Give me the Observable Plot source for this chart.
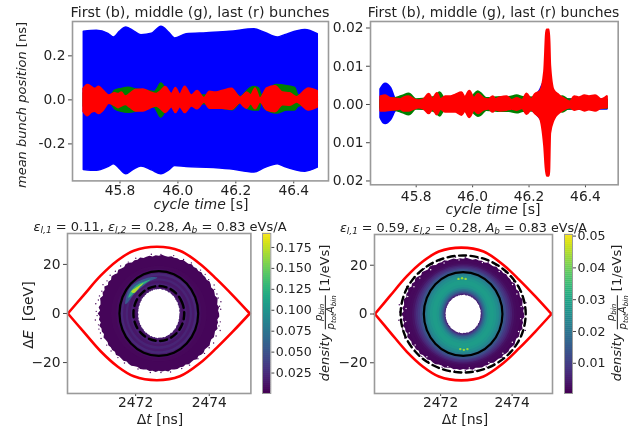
<!DOCTYPE html>
<html><head><meta charset="utf-8">
<script src="https://cdn.jsdelivr.net/npm/d3@7"></script>
<script src="https://cdn.jsdelivr.net/npm/@observablehq/plot@0.6"></script>
<style>
html,body{margin:0;padding:0;background:#fff;overflow:hidden}
#root{position:relative;width:630px;height:428px;font-family:"DejaVu Sans",sans-serif;color:#222;overflow:hidden;filter:blur(0.45px)}
#root svg{position:absolute;overflow:visible;background:transparent}
.t{position:absolute;white-space:nowrap;transform-origin:center}
.t sub{font-size:.7em;vertical-align:-.25em;line-height:0}
.frac{display:inline-block;vertical-align:middle;text-align:center;font-size:.78em;line-height:1.05}
.frac>span{display:block}
.frac>span:first-child{border-bottom:1px solid #222}
</style></head><body><div id="root"></div>
<script>
// ---------- top-left panel: envelopes of the mean bunch position [ns]
const tBlueA=[45.675,45.72,45.76,45.78,45.80,45.822,45.85,45.874,45.91,45.943,45.97,45.99,46.03,46.10,46.18,46.264,46.30,46.345,46.37,46.44,46.483];
const hiBlueA=[.31,.314,.30,.283,.31,.329,.31,.294,.30,.332,.305,.279,.298,.303,.309,.321,.305,.283,.294,.317,.298];
const loBlueA=[-.318,-.322,-.305,-.292,-.315,-.338,-.315,-.303,-.32,-.338,-.32,-.30,-.305,-.308,-.315,-.33,-.31,-.292,-.305,-.326,-.308];
const tGreenA=[45.675,45.765,45.783,45.806,45.83,45.855,45.89,45.92,45.93,45.942,45.955,45.965,46.0,46.14,46.16,46.19,46.22,46.227,46.262,46.28,46.29,46.3,46.342,46.378,46.405,46.417,46.483];
const hiGreenA=[.03,.012,.042,.05,.055,.047,.042,.035,.05,.074,.056,.03,.02,.02,.037,.037,.012,.022,.058,.052,.02,.03,.067,.062,.054,.02,.02];
const loGreenA=[-.03,-.012,-.042,-.054,-.058,-.054,-.042,-.035,-.056,-.08,-.058,-.03,-.02,-.02,-.042,-.047,-.012,-.03,-.048,-.048,-.012,-.04,-.062,-.048,-.048,-.03,-.02];
const tRedA=[45.674,45.689,45.703,45.714,45.728,45.743,45.763,45.783,45.795,45.806,45.820,45.835,45.855,45.881,45.904,45.927,45.942,45.958,45.979,45.993,46.008,46.025,46.048,46.068,46.092,46.110,46.130,46.153,46.187,46.216,46.227,46.239,46.253,46.268,46.285,46.308,46.337,46.363,46.388,46.411,46.452,46.483];
const hiRedA=[.05,.068,.058,.05,.06,.042,.02,.03,.027,.033,.015,.027,.045,.047,.035,.027,.04,.058,.027,.054,.024,.06,.02,.04,.008,.037,.033,.04,.05,.01,.02,.034,.021,.052,.006,.052,.062,.033,.03,.012,.052,.04];
const loRedA=[-.054,-.074,-.058,-.054,-.064,-.05,-.018,-.028,-.038,-.03,-.023,-.035,-.053,-.053,-.04,-.03,-.043,-.06,-.033,-.06,-.033,-.06,-.03,-.043,-.012,-.04,-.04,-.04,-.045,-.015,-.03,-.04,-.02,-.043,-.012,-.048,-.056,-.024,-.027,-.012,-.048,-.035];
// ---------- top-right panel
const tBlueB=[45.675,45.685,45.692,45.71,45.728,45.745,45.80,45.85,46.0,46.1,46.2,46.225,46.241,46.256,46.27,46.285,46.30,46.33,46.4,46.477];
const hiBlueB=[.0039,.005,.0053,.0042,.0013,.0012,.001,.001,.0012,.001,.0012,.0022,.0037,.0058,.005,.0035,.0015,.0012,.0012,.0012];
const loBlueB=[-.0035,-.0048,-.005,-.004,-.0016,-.0012,-.001,-.001,-.0012,-.001,-.0012,-.0024,-.0037,-.0053,-.005,-.0035,-.0015,-.0012,-.0012,-.0012];
const tGreenB=[45.675,45.74,45.755,45.775,45.80,45.85,45.87,45.885,45.90,46.0,46.02,46.03,46.05,46.1,46.13,46.158,46.18,46.3,46.32,46.34,46.477];
const hiGreenB=[.001,.0018,.0022,.0027,.0012,.0015,.002,.003,.0015,.002,.0033,.0028,.0015,.0018,.0018,.0022,.0018,.0015,.002,.0012,.001];
const loGreenB=[-.001,-.0018,-.0022,-.0027,-.0012,-.0015,-.002,-.003,-.0015,-.002,-.0031,-.0028,-.0015,-.0018,-.0018,-.0022,-.0018,-.0015,-.002,-.0012,-.001];
const tRedB=[45.675,45.692,45.710,45.728,45.745,45.757,45.775,45.793,45.810,45.828,45.846,45.860,45.875,45.887,45.905,45.923,45.940,45.962,45.974,45.990,46.006,46.021,46.041,46.059,46.073,46.081,46.099,46.122,46.140,46.158,46.178,46.193,46.209,46.223,46.241,46.256,46.264,46.272,46.276,46.288,46.306,46.323,46.347,46.362,46.379,46.398,46.414,46.436,46.457,46.477];
const hiRedB=[.002,.0022,.0015,.0014,.0012,.0017,.002,.0012,.0009,.0012,.0026,.0012,.0028,.0012,.002,.002,.0024,.003,.0017,.0034,.0015,.0026,.0014,.0012,.002,.0012,.0017,.002,.001,.0015,.001,.0027,.0012,.0026,.0033,.0085,.0194,.0194,.0102,.0037,.0024,.0015,.0006,.002,.0017,.0022,.002,.0022,.0012,.002];
const loRedB=[-.0017,-.0017,-.0015,-.0014,-.0012,-.0017,-.0017,-.0012,-.0009,-.0012,-.0024,-.0012,-.0027,-.0012,-.002,-.002,-.002,-.0028,-.0017,-.0034,-.0015,-.0024,-.0014,-.0012,-.002,-.0014,-.0017,-.0015,-.0012,-.0015,-.001,-.0026,-.0014,-.0024,-.0037,-.0109,-.0187,-.0187,-.0076,-.0042,-.0024,-.0015,-.0009,-.0015,-.0012,-.0017,-.0014,-.0017,-.001,-.0009];
// ---------- phase space: separatrix
const sepT=[2470.16,2470.59,2471.05,2471.5,2471.95,2472.58,2473.2,2473.75,2474.2,2474.65,2475.1];
const sepE=[0,7.5,15.4,21.5,25.6,27.2,25.6,20.2,14,7.2,0];
const centerT=2472.63;
// closed contour sampling (16 points round a ring)
const ringU=[1,.924,.707,.383,0,-.383,-.707,-.924,-1,-.924,-.707,-.383,0,.383,.707,.924];
const ringV=[0,.383,.707,.924,1,.924,.707,.383,0,-.383,-.707,-.924,-1,-.924,-.707,-.383];
// density contours: half-width [ns], half-height [GeV], density level
const ringsC=[[1.30,19.5,.004],[1.16,18.3,.006],[1.1,17.4,.012],[1.03,16.4,.022],[.97,15.4,.014],[.9,14.4,.020],[.84,13.4,.012],[.76,12.3,.018],[.7,11.3,.009],[.62,10.6,.014]];
const ringsD=[[1.6,22,.0015],[1.5,21.2,.002],[1.43,20.6,.003],[1.37,20,.005],[1.32,19.5,.007],[1.27,19,.009],[1.21,18.5,.012],[1.15,17.8,.016],[1.1,17.2,.019],[1.05,16.5,.022],[1.0,15.8,.025],[.93,14.8,.027],[.86,13.8,.028],[.74,12,.027],[.68,11,.024],[.63,10.3,.02],[.59,9.6,.016],[.56,9.1,.012],[.53,8.6,.008],[.51,8.2,.005]];
// rough outline of the particle cloud, one radius factor per 3 degrees
const edgeOuter=[1.01,.995,1.015,.99,1.005,1.02,.99,1,1.01,.985,1.005,1.015,.99,1,.995,1.01,.99,1.005,.995,1.015,.99,1,1.01,.99,1.005,.995,1.01,.99,1,1.015,.995,1.005,.99,1.01,1,.99,1.015,.995,1.005,.99,1.01,1.02,.99,1,1.015,.985,1.005,1.02,.99,1.01,.985,1.025,.995,1.01,.985,1.02,1,.99,1.015,.985,1.025,.99,1.01,.985,1.02,.995,1.005,.985,1.015,1,.99,1.01,.995,1.005,.99,1.015,.995,1,1.01,.99,1.005,1.015,.995,.99,1.01,1,.99,1.005,.995,1.01,.99,1.005,.995,1.015,.99,1,1.01,.995,1.005,.99,1.01,1,.995,1.015,.99,1.005,1.01,.99,1,1.015,.995,.985,1.01,1,.99,1.02,.995,1.005,.985,1.015];
const edgeInner=[1,1.02,.99,1.01,1.025,.995,1.015,.985,1.01,1.02,.995,1.005,.985,1.015,1,1.02,.99,1.01,.995,1.025,1,.985,1.015,1.005,.99,1.02,1,.985,1.01,1.025,.995,1.005,.99,1.015,1,1.02,.985,1.01,.995,1.015,.99,1.005,1.02,.99,1.01,.985,1.015,1,1.025,.99,1.01,.995,1.02,.985,1.005,1.015,.995,1.01,.99,1.02,1,.985,1.015,1.005,.995,1.025,.99,1.01,1,1.015,.985,1.02,.995,1.005,.99,1.015,1,1.02,.985,1.01,1,.99,1.025,.995,1.005,1.015,.985,1.01,1,1.02,.99,1.005,.995,1.015,.985,1.01,1.02,.995,1.005,.99,1.015,1,.985,1.02,1.005,.995,1.01,.99,1.025,1,.985,1.015,1.005,.995,1.02,.99,1.01,.995];
// particles straying outside the outline: angle [deg], radius factor
const strayAngles=[4,11,19,28,41,58,76,97,112,128,141,152,163,171,178,186,195,204,219,236,262,281,300,318,331,344,352,7,15,24,35,47,66,88,120,135,147,158,167,182,191,199,212,228,250,272,292,310,325,338,348];
const strayRadii=[1.04,1.06,1.03,1.05,1.03,1.03,1.03,1.03,1.03,1.04,1.05,1.06,1.04,1.07,1.05,1.07,1.04,1.06,1.03,1.03,1.03,1.03,1.03,1.03,1.05,1.07,1.04,1.025,1.03,1.025,1.02,1.025,1.02,1.02,1.025,1.03,1.035,1.03,1.04,1.035,1.03,1.035,1.03,1.025,1.02,1.02,1.025,1.02,1.03,1.035,1.03];
// white flecks just inside the outline of the right-hand cloud: angle [deg], radius factor
const fleckAngles=[8,22,33,52,71,94,109,124,138,149,161,174,188,201,215,232,255,276,296,313,328,341,355];
const fleckRadii=[.97,.96,.975,.97,.98,.975,.97,.96,.965,.95,.97,.95,.96,.955,.97,.975,.98,.975,.97,.965,.96,.97,.955];
// bright crescent in the left phase-space panel (dt, dE)
const arc1T=[2471.72,2471.81,2471.96,2472.17,2472.40,2472.59,2472.40,2472.22,2472.02,2471.90,2471.78];
const arc1E=[3.8,9.7,12.1,13.8,14.8,14.6,13.3,11.3,8.9,6.8,4.4];
const arc2T=[2471.80,2471.87,2472.05,2472.26,2472.40,2472.21,2472.02,2471.88];
const arc2E=[6.4,9.1,11.7,13.1,13.8,11.9,9.7,7.2];
const arc3T=[2471.88,2472.05,2472.21,2472.10,2471.96];
const arc3E=[8.9,10.9,12.3,10.5,8.4];
// brighter spots at the top and bottom of the ring in the right panel
const spotT=[2472.5,2472.6,2472.7,2472.55,2472.65,2472.75];
const spotE=[14.4,14.7,14.4,-14.4,-14.7,-14.4];
// tick values
const cycleTicks=[45.8,46.0,46.2,46.4];
const ticksA=[.2,0,-.2];
const ticksB=[.02,.01,0,-.01,-.02];
const phaseXTicks=[2472,2474];
const phaseYTicks=[20,0,-20];
const barTicksC=[.025,.05,.075,.1,.125,.15,.175];
const barTicksD=[.01,.02,.03,.04,.05];

const root=document.getElementById("root");
const FONT={fontFamily:"DejaVu Sans, sans-serif",fontSize:"13.8px",color:"#222",background:"transparent"};
const TICK="#444";
const mL=50,mT=8,mR=8,mB=24;

function place(plot,left,top){plot.style.left=(left-mL)+"px";plot.style.top=(top-mT)+"px";root.appendChild(plot);}
function zip(t,hi,lo){return t.map((x,i)=>({t:x,hi:hi[i],lo:lo[i]}));}
function bandMark(t,hi,lo,color,sw){return Plot.areaY(zip(t,hi,lo),{x:"t",y1:"lo",y2:"hi",fill:color,stroke:color,strokeWidth:sw,strokeLinejoin:"round",curve:"monotone-x"});}

function timePanel(o){
  const plot=Plot.plot({
    width:o.w+mL+mR,height:o.h+mT+mB,marginLeft:mL,marginTop:mT,marginRight:mR,marginBottom:mB,style:FONT,
    x:{domain:o.xd},y:{domain:o.yd},
    marks:[
      ...o.bands.map(b=>bandMark(b[0],b[1],b[2],b[3],o.sw)),
      Plot.axisX(cycleTicks,{tickSize:3,tickPadding:o.pad,stroke:TICK,fill:"#222",label:null,tickFormat:d=>d.toFixed(1)}),
      Plot.axisY(o.yt,{tickSize:4,tickPadding:3,stroke:TICK,fill:"#222",label:null,tickFormat:o.fmt}),
      Plot.frame({stroke:"#9a9a9a",strokeWidth:1.6})
    ]
  });
  place(plot,o.l,o.t);
}

function ellipse(id,a,b,level){return ringU.map((u,i)=>({id,level,dt:centerT+a*u,dE:b*ringV[i]}));}
function edge(a,b,factors,level){return factors.map((f,i)=>{const th=i*3*Math.PI/180;return {level,dt:centerT+a*f*Math.cos(th),dE:b*f*Math.sin(th)};});}
function pts(T,E,level,id){return T.map((x,i)=>({dt:x,dE:E[i],level,id}));}
function polar(A,R,o,level){return A.map((d,i)=>{const th=d*Math.PI/180;return {level,dt:centerT+o[0]*R[i]*Math.cos(th),dE:o[1]*R[i]*Math.sin(th)};});}

function phasePanel(o){
  const upper=sepT.map((x,i)=>({dt:x,dE:sepE[i]}));
  const lower=sepT.map((x,i)=>({dt:x,dE:-sepE[i]}));
  const rings=o.rings.flatMap((r,i)=>ellipse(i,r[0],r[1],r[2]));
  const plot=Plot.plot({
    width:o.w+mL+mR,height:o.h+mT+mB,marginLeft:mL,marginTop:mT,marginRight:mR,marginBottom:mB,style:FONT,
    x:{domain:[2470.15,2475.13]},y:{domain:[-32.6,32.6]},
    color:{type:"linear",scheme:"viridis",domain:o.cd,clamp:true},
    marks:[
      Plot.dot(polar(strayAngles,strayRadii,o.outer,o.outerLevel),{x:"dt",y:"dE",r:.7,fill:"level",stroke:"none"}),
      Plot.line(edge(o.outer[0],o.outer[1],edgeOuter,o.outerLevel),{x:"dt",y:"dE",fill:"level",stroke:"none",curve:"linear-closed"}),
      Plot.line(rings,{x:"dt",y:"dE",z:"id",fill:"level",stroke:"none",curve:"catmull-rom-closed"}),
      Plot.line(edge(o.hole[0],o.hole[1],edgeInner,0),{x:"dt",y:"dE",fill:"white",stroke:"none",curve:"linear-closed"}),
      ...(o.extra||[]),
      Plot.line(upper,{x:"dt",y:"dE",stroke:"#ff0000",strokeWidth:2.6,curve:"catmull-rom"}),
      Plot.line(lower,{x:"dt",y:"dE",stroke:"#ff0000",strokeWidth:2.6,curve:"catmull-rom"}),
      Plot.line(ellipse(0,o.solid[0],o.solid[1],0),{x:"dt",y:"dE",stroke:"black",strokeWidth:2.2,curve:"catmull-rom-closed"}),
      Plot.line(ellipse(0,o.dash[0],o.dash[1],0),{x:"dt",y:"dE",stroke:"black",strokeWidth:2.4,strokeDasharray:"7,4.5",curve:"catmull-rom-closed"}),
      Plot.axisX(phaseXTicks,{tickSize:3,tickPadding:1,stroke:TICK,fill:"#222",label:null,tickFormat:d=>String(d)}),
      Plot.axisY(phaseYTicks,{tickSize:4,tickPadding:3,stroke:TICK,fill:"#222",label:null,tickFormat:d=>d<0?"\u2212"+(-d):String(d)}),
      Plot.frame({stroke:"#9a9a9a",strokeWidth:1.6})
    ]
  });
  place(plot,o.l,o.t);
}

function colorBar(o){
  const step=(o.cd[1]-o.cd[0])/80;
  const levels=d3.range(o.cd[0],o.cd[1],step);
  const plot=Plot.plot({
    width:o.w+mL+40,height:o.h+mT+mB,marginLeft:mL,marginTop:mT,marginRight:40,marginBottom:mB,style:FONT,
    x:{axis:null,domain:[0,1]},y:{domain:o.cd},
    color:{type:"linear",scheme:"viridis",domain:o.cd},
    marks:[
      Plot.rect(levels,{x1:()=>0,x2:()=>1,y1:d=>d,y2:d=>d+step*1.15,fill:d=>d}),
      Plot.axisY(o.ticks,{anchor:"right",tickSize:3,tickPadding:2,stroke:TICK,fill:"#222",label:null,fontSize:12.6,tickFormat:o.fmt}),
      Plot.frame({stroke:"#9a9a9a",strokeWidth:1})
    ]
  });
  place(plot,o.l,o.t);
}

function text(html,x,y,size,rot){
  const d=document.createElement("div");d.className="t";d.innerHTML=html;
  d.style.left=x+"px";d.style.top=y+"px";d.style.fontSize=size+"px";
  d.style.transform="translate(-50%,-50%)"+(rot?" rotate("+rot+"deg)":"");
  root.appendChild(d);
}

timePanel({l:72,t:20.6,w:256,h:159.4,xd:[45.636,46.52],yd:[-.368,.356],yt:ticksA,sw:1.5,pad:1,
  fmt:d=>d<0?"-"+(-d).toFixed(1):d.toFixed(1),
  bands:[[tBlueA,hiBlueA,loBlueA,"#0000ff"],[tGreenA,hiGreenA,loGreenA,"#008000"],[tRedA,hiRedA,loRedA,"#ff0000"]]});
timePanel({l:370,t:20.7,w:247.7,h:163.3,xd:[45.638,46.516],yd:[-.021,.0217],yt:ticksB,sw:2.4,pad:3,
  fmt:d=>Math.abs(d).toFixed(2),
  bands:[[tBlueB,hiBlueB,loBlueB,"#0000ff"],[tGreenB,hiGreenB,loGreenB,"#008000"],[tRedB,hiRedB,loRedB,"#ff0000"]]});

const cdC=[.0006,.1917],cdD=[.0005,.0505];
phasePanel({l:67.3,t:232.7,w:183.4,h:160,cd:cdC,rings:ringsC,outer:[1.62,23.6],outerLevel:.003,hole:[.56,9.9],solid:[1.07,17.3],dash:[.69,11.2],
  extra:[
    Plot.line(pts(arc1T,arc1E,.055,1),{x:"dt",y:"dE",fill:"level",stroke:"none",curve:"catmull-rom-closed"}),
    Plot.line(pts(arc2T,arc2E,.125,2),{x:"dt",y:"dE",fill:"level",stroke:"none",curve:"catmull-rom-closed"}),
    Plot.line(pts(arc3T,arc3E,.17,3),{x:"dt",y:"dE",fill:"level",stroke:"none",curve:"catmull-rom-closed"})
  ]});
colorBar({l:262,t:232.7,w:8.3,h:160,cd:cdC,ticks:barTicksC,fmt:d=>d.toFixed(3)});
phasePanel({l:374.3,t:234.3,w:178,h:159,cd:cdD,rings:ringsD,outer:[1.69,22.8],outerLevel:.0012,hole:[.49,7.8],solid:[1.1,17.2],dash:[1.75,24],
  extra:[
    Plot.dot(polar(fleckAngles,fleckRadii,[1.69,22.8],0),{x:"dt",y:"dE",r:.7,fill:"white",stroke:"none"}),
    Plot.dot(pts(spotT,spotE,.043,0),{x:"dt",y:"dE",r:1.2,fill:"level",stroke:"none"})
  ]});
colorBar({l:563.7,t:234.3,w:8,h:159,cd:cdD,ticks:barTicksD,fmt:d=>d.toFixed(2)});

const topTitle="First (b), middle (g), last (r) bunches";
text(topTitle,200,12,14.3);
text(topTitle,493.5,12,13.9);
text('<i>mean bunch position</i> [ns]',21,105,13,-90);
text('<i>cycle time</i> [s]',201,204,14);
text('<i>cycle time</i> [s]',493,208.5,14);
const eps=(a,b,c)=>'<i>\u03b5<sub>l,1</sub></i> = '+a+', <i>\u03b5<sub>l,2</sub></i> = '+b+', <i>A<sub>b</sub></i> = '+c+' eVs/A';
text(eps("0.11","0.28","0.83"),160,226,13);
text(eps("0.59","0.28","0.83"),463.5,226.5,12.7);
text('\u0394<i>E</i> &nbsp;[GeV]',28,315,14,-90);
text('\u0394<i>t</i> [ns]',160,419,14);
text('\u0394<i>t</i> [ns]',465,419,14);
const dens='<i>density</i> <span class="frac"><span><i>p<sub>bin</sub></i></span><span><i>p<sub>tot</sub>A<sub>bin</sub></i></span></span> [1/eVs]';
text(dens,325,313,13,-90);
text(dens,617,313,13,-90);
</script></body></html>
